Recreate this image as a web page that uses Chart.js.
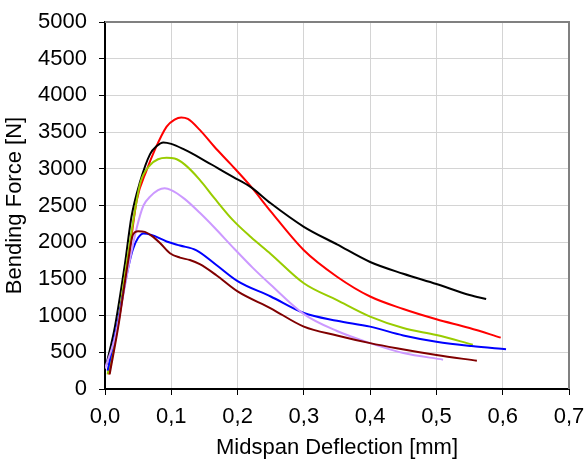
<!DOCTYPE html>
<html>
<head>
<meta charset="utf-8">
<script src="https://cdn.jsdelivr.net/npm/chart.js@4"></script>
<style>
  html, body { margin: 0; padding: 0; background: #fff; }
  #wrap { width: 585px; height: 461px; }
</style>
</head>
<body>
<div id="wrap"><canvas id="chart" width="585" height="461"></canvas></div>
<script>
// Midspan deflection [mm] and bending force [N] for each specimen curve
const redX = [0.006, 0.022, 0.038, 0.048, 0.063, 0.075, 0.093, 0.105, 0.115, 0.125, 0.143, 0.165, 0.19, 0.22, 0.25, 0.3, 0.35, 0.4, 0.45, 0.5, 0.55, 0.597];
const redY = [200, 1000, 1950, 2575, 2985, 3255, 3575, 3670, 3700, 3680, 3530, 3300, 3060, 2760, 2420, 1890, 1530, 1260, 1090, 950, 830, 700];

const blackX = [0.002, 0.015, 0.03, 0.04, 0.053, 0.068, 0.078, 0.088, 0.1, 0.12, 0.145, 0.17, 0.193, 0.22, 0.25, 0.3, 0.35, 0.4, 0.45, 0.5, 0.55, 0.575];
const blackY = [330, 850, 1700, 2350, 2825, 3200, 3310, 3360, 3340, 3260, 3140, 3010, 2890, 2750, 2530, 2210, 1970, 1730, 1570, 1430, 1280, 1225];

const greenX = [0.004, 0.02, 0.04, 0.053, 0.068, 0.08, 0.093, 0.105, 0.12, 0.143, 0.165, 0.193, 0.22, 0.25, 0.3, 0.35, 0.4, 0.45, 0.5, 0.555];
const greenY = [200, 950, 2140, 2800, 3050, 3130, 3150, 3140, 3060, 2850, 2600, 2300, 2070, 1840, 1440, 1210, 985, 830, 735, 605];

const lilacX = [0.0, 0.015, 0.03, 0.038, 0.048, 0.058, 0.068, 0.08, 0.09, 0.1, 0.12, 0.143, 0.165, 0.193, 0.223, 0.25, 0.3, 0.35, 0.4, 0.45, 0.51];
const lilacY = [280, 700, 1400, 1780, 2200, 2500, 2620, 2710, 2735, 2710, 2590, 2400, 2200, 1930, 1650, 1420, 1020, 790, 625, 490, 400];

const blueX = [0.004, 0.02, 0.035, 0.042, 0.05, 0.058, 0.07, 0.093, 0.113, 0.138, 0.168, 0.2, 0.25, 0.3, 0.35, 0.4, 0.45, 0.5, 0.553, 0.605];
const blueY = [250, 950, 1650, 1900, 2060, 2120, 2100, 2010, 1955, 1890, 1690, 1470, 1260, 1035, 930, 850, 730, 645, 585, 540];

const brownX = [0.007, 0.02, 0.035, 0.042, 0.05, 0.06, 0.07, 0.083, 0.098, 0.113, 0.128, 0.143, 0.168, 0.2, 0.25, 0.3, 0.35, 0.4, 0.44, 0.5, 0.561];
const brownY = [200, 850, 1750, 2100, 2150, 2140, 2090, 1990, 1850, 1790, 1757, 1700, 1550, 1330, 1100, 850, 730, 625, 555, 463, 385];

const xTicks = [0, 0.1, 0.2, 0.3, 0.4, 0.5, 0.6, 0.7];
const yTicks = [0, 500, 1000, 1500, 2000, 2500, 3000, 3500, 4000, 4500, 5000];

function toPoints(xs, ys) {
    return xs.map((x, i) => ({ x: x, y: ys[i] }));
}

function series(xs, ys, color) {
    return {
        data: toPoints(xs, ys),
        borderColor: color,
        backgroundColor: color,
        borderWidth: 2,
        pointRadius: 0,
        showLine: true,
        cubicInterpolationMode: "monotone"
    };
}

// grey frame on the top and right of the plot area
const frame = {
    id: "frame",
    afterDraw(chart) {
        const a = chart.chartArea;
        const ctx = chart.ctx;
        ctx.save();
        ctx.strokeStyle = "#808080";
        ctx.lineWidth = 2;
        ctx.beginPath();
        ctx.moveTo(a.left, a.top);
        ctx.lineTo(a.right, a.top);
        ctx.lineTo(a.right, a.bottom);
        ctx.stroke();
        ctx.restore();
    }
};

const font = { family: "'Liberation Sans', Arial, sans-serif", size: 22 };

new Chart(document.getElementById("chart").getContext("2d"), {
    type: "scatter",
    data: {
        datasets: [
            series(brownX, brownY, "#800000"),
            series(lilacX, lilacY, "#cc99ff"),
            series(blueX, blueY, "#0000ff"),
            series(greenX, greenY, "#99cc00"),
            series(blackX, blackY, "#000000"),
            series(redX, redY, "#ff0000")
        ]
    },
    options: {
        responsive: false,
        animation: false,
        layout: { padding: { left: 0, right: 16, top: 22, bottom: 0 } },
        plugins: { legend: { display: false }, tooltip: { enabled: false } },
        scales: {
            x: {
                type: "linear",
                min: 0,
                max: 0.7,
                afterBuildTicks: s => { s.ticks = xTicks.map(v => ({ value: v })); },
                afterFit: s => { s.height = 72; s.paddingLeft = 0; s.paddingRight = 0; },
                ticks: {
                    color: "#000",
                    font: font,
                    padding: 9,
                    maxRotation: 0,
                    callback: v => v.toFixed(1).replace(".", ",")
                },
                grid: { color: "#d4d4d4", tickColor: "#000", tickLength: 6, lineWidth: 1 },
                border: { color: "#000", width: 2 },
                title: { display: true, text: "Midspan Deflection [mm]", color: "#000", font: font, padding: { top: 0, bottom: 0 } }
            },
            y: {
                min: 0,
                max: 5000,
                afterBuildTicks: s => { s.ticks = yTicks.map(v => ({ value: v })); },
                afterFit: s => { s.width = 105; s.paddingTop = 0; s.paddingBottom = 0; },
                ticks: { color: "#000", font: font, padding: 12, callback: v => String(v) },
                grid: { color: "#d4d4d4", tickColor: "#000", tickLength: 6, lineWidth: 1 },
                border: { color: "#000", width: 2 },
                title: { display: true, text: "Bending Force [N]", color: "#000", font: font, padding: { top: 2, bottom: 0 } }
            }
        }
    },
    plugins: [frame]
});
</script>
</body>
</html>
